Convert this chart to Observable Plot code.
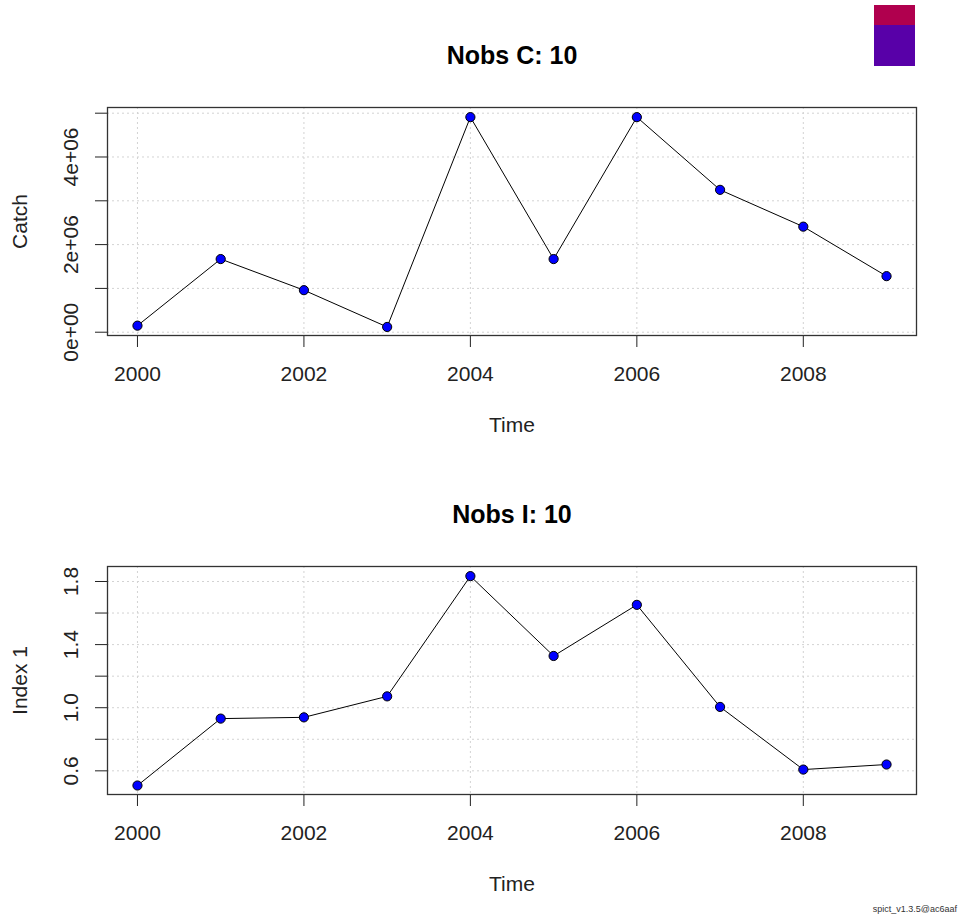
<!DOCTYPE html>
<html>
<head>
<meta charset="utf-8">
<script src="https://cdn.jsdelivr.net/npm/d3@7"></script>
<script src="https://cdn.jsdelivr.net/npm/@observablehq/plot@0.6"></script>
<style>
  html, body { margin: 0; padding: 0; background: #fff; }
  #wrap { position: relative; width: 961px; height: 918px; font-family: "Liberation Sans", Arial, sans-serif; }
  #wrap svg { display: block; }
  #status { position: absolute; left: 874px; top: 5px; width: 41px; }
  #footer { position: absolute; right: 4px; top: 904px; font-size: 9px; color: #333; }
</style>
</head>
<body>
<div id="wrap">
  <div id="top"></div>
  <div id="bottom"></div>
  <div id="status"></div>
  <div id="footer">spict_v1.3.5@ac6aaf</div>
</div>
<script>
const years = [2000, 2001, 2002, 2003, 2004, 2005, 2006, 2007, 2008, 2009];
const catchValues = [0.15e6, 1.67e6, 0.96e6, 0.12e6, 4.91e6, 1.67e6, 4.91e6, 3.25e6, 2.41e6, 1.28e6];
const indexValues = [0.507, 0.931, 0.939, 1.072, 1.834, 1.328, 1.652, 1.005, 0.608, 0.640];

const xTicks = [2000, 2002, 2004, 2006, 2008];
const catchTicks = [0, 1e6, 2e6, 3e6, 4e6, 5e6];
const catchLabels = [0, 2e6, 4e6];
const catchLabelText = ["0e+00", "2e+06", "4e+06"];
const indexTicks = [0.6, 0.8, 1.0, 1.2, 1.4, 1.6, 1.8];
const indexLabels = [0.6, 1.0, 1.4, 1.8];
const indexLabelText = ["0.6", "1.0", "1.4", "1.8"];

const titles = ["Nobs C: 10", "Nobs I: 10"];
const yTitles = ["Catch", "Index 1"];
const xTitle = "Time";

const statusColors = ["#B0004E", "#5800A8"];
const statusHeights = [20, 41];

const FONT = "'Liberation Sans', Arial, Helvetica, sans-serif";

function panel({values, ticks, labels, labelText, domain, title, yTitle}) {
  const data = years.map((t, i) => ({t, v: values[i]}));
  const labelData = labels.map((v, i) => ({v, s: labelText[i]}));
  const grid = {stroke: "#d3d3d3", strokeOpacity: 1, strokeWidth: 1, strokeDasharray: "2,3"};
  return Plot.plot({
    width: 961,
    height: 459,
    marginLeft: 107,
    marginRight: 45,
    marginTop: 107,
    marginBottom: 124,
    style: {fontFamily: FONT, background: "white", color: "#222", overflow: "visible"},
    x: {domain: [1999.64, 2009.36]},
    y: {domain},
    marks: [
      Plot.gridX(xTicks, grid),
      Plot.gridY(ticks, grid),
      Plot.axisX(xTicks, {tickSize: 12, tickPadding: 18.5, fontSize: 21, tickFormat: d => String(d), stroke: "#222", label: null}),
      Plot.axisY(ticks, {tickSize: 12, tickFormat: () => "", stroke: "#222", label: null}),
      Plot.text(labelData, {y: "v", text: "s", frameAnchor: "left", dx: -36.5, rotate: -90, textAnchor: "middle", lineAnchor: "middle", fontSize: 21, fill: "#222"}),
      Plot.text([yTitle], {text: d => d, frameAnchor: "left", dx: -87, rotate: -90, textAnchor: "middle", lineAnchor: "middle", fontSize: 21, fill: "#222"}),
      Plot.text([xTitle], {text: d => d, frameAnchor: "bottom", dy: 90, textAnchor: "middle", lineAnchor: "middle", fontSize: 21, fill: "#222"}),
      Plot.text([title], {text: d => d, frameAnchor: "top", dy: -52, textAnchor: "middle", lineAnchor: "middle", fontSize: 25, fontWeight: "bold", fill: "#000"}),
      Plot.frame({stroke: "#333", strokeWidth: 1.3}),
      Plot.line(data, {x: "t", y: "v", stroke: "#000", strokeWidth: 1}),
      Plot.dot(data, {x: "t", y: "v", r: 4.6, fill: "#0000ff", stroke: "#000", strokeWidth: 1})
    ]
  });
}

document.getElementById("top").append(panel({
  values: catchValues, ticks: catchTicks, labels: catchLabels, labelText: catchLabelText,
  domain: [-0.075e6, 5.13e6], title: titles[0], yTitle: yTitles[0]
}));
document.getElementById("bottom").append(panel({
  values: indexValues, ticks: indexTicks, labels: indexLabels, labelText: indexLabelText,
  domain: [0.45, 1.895], title: titles[1], yTitle: yTitles[1]
}));

const status = document.getElementById("status");
statusColors.forEach((c, i) => {
  const d = document.createElement("div");
  d.style.background = c;
  d.style.height = statusHeights[i] + "px";
  status.append(d);
});
</script>
</body>
</html>
